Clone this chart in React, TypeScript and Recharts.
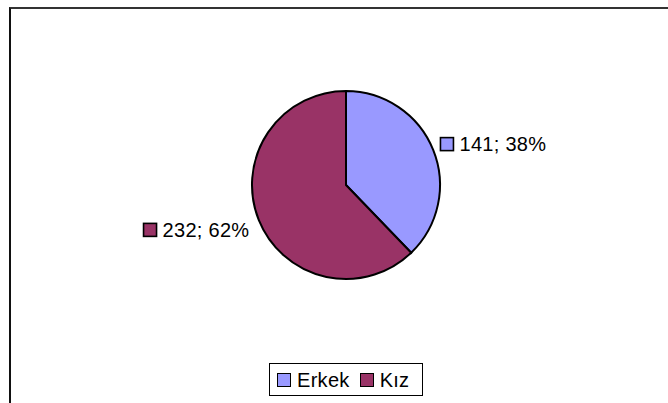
import React from "react";
import { PieChart, Pie, Cell, Legend } from "recharts";

const categories = ["Erkek", "Kız"];
const counts = [141, 232];
const percents = ["38%", "62%"];
const colors = ["#9999FF", "#993366"];

const data = categories.map((name, i) => ({ name, value: counts[i], pct: percents[i] }));

const FONT = "'Liberation Sans', Arial, sans-serif";
const RAD = Math.PI / 180;

const renderLabel = (props: any) => {
  const { cx, cy, midAngle, outerRadius, index } = props;
  const d = outerRadius + 10;
  const x = cx + d * Math.cos(-midAngle * RAD);
  const y = cy + d * Math.sin(-midAngle * RAD);
  const right = x >= cx;
  const text = `${counts[index]}; ${percents[index]}`;
  const textW = 87;
  const sq = 13;
  const gap = 6;
  const left = right ? x - 2 : x - textW - sq - gap;
  const cyy = right ? y - 2 : y + 6;
  return (
    <g>
      <rect x={left} y={cyy - sq / 2} width={sq} height={sq} fill={colors[index]} stroke="#000" strokeWidth={1.6} />
      <text
        x={left + sq + gap}
        y={cyy + 7}
        fontSize={20}
        letterSpacing={0.3}
        fontFamily={FONT}
        fill="#000"
        textAnchor="start"
      >
        {text}
      </text>
    </g>
  );
};

const renderLegend = () => (
  <div
    style={{
      boxSizing: "border-box",
      border: "1px solid #000",
      width: 154,
      height: 33,
      display: "flex",
      alignItems: "center",
      paddingLeft: 7,
      fontFamily: FONT,
      fontSize: 20,
      letterSpacing: 0.3,
      lineHeight: "20px",
      background: "#fff",
      color: "#000",
    }}
  >
    {categories.map((c, i) => (
      <span key={c} style={{ display: "inline-flex", alignItems: "center", marginRight: i === 0 ? 10 : 0 }}>
        <span
          style={{
            boxSizing: "border-box",
            display: "inline-block",
            width: 14,
            height: 14,
            background: colors[i],
            border: "1.6px solid #000",
            marginRight: 6,
          }}
        />
        {c}
      </span>
    ))}
  </div>
);

export default function App() {
  return (
    <div style={{ position: "absolute", left: 0, top: 0, width: 668, height: 403, background: "#fff", overflow: "hidden" }}>
      <div
        style={{
          position: "absolute",
          left: 9,
          top: 7,
          width: 700,
          height: 450,
          borderTop: "2px solid #333",
          borderLeft: "2px solid #111",
        }}
      />
      <div style={{ position: "absolute", left: 0, top: 0 }}>
        <PieChart width={668} height={403} margin={{ top: 0, right: 0, bottom: 0, left: 0 }}>
          <Pie
            data={data}
            dataKey="value"
            nameKey="name"
            cx={346}
            cy={185}
            outerRadius={94}
            startAngle={90}
            endAngle={-270}
            stroke="#000"
            strokeWidth={2}
            label={renderLabel}
            labelLine={false}
            isAnimationActive={false}
          >
            {data.map((d, i) => (
              <Cell key={d.name} fill={colors[i]} />
            ))}
          </Pie>
          <Legend
            content={renderLegend}
            wrapperStyle={{ position: "absolute", left: 269, top: 363, width: "auto", height: "auto" }}
          />
        </PieChart>
      </div>
    </div>
  );
}
